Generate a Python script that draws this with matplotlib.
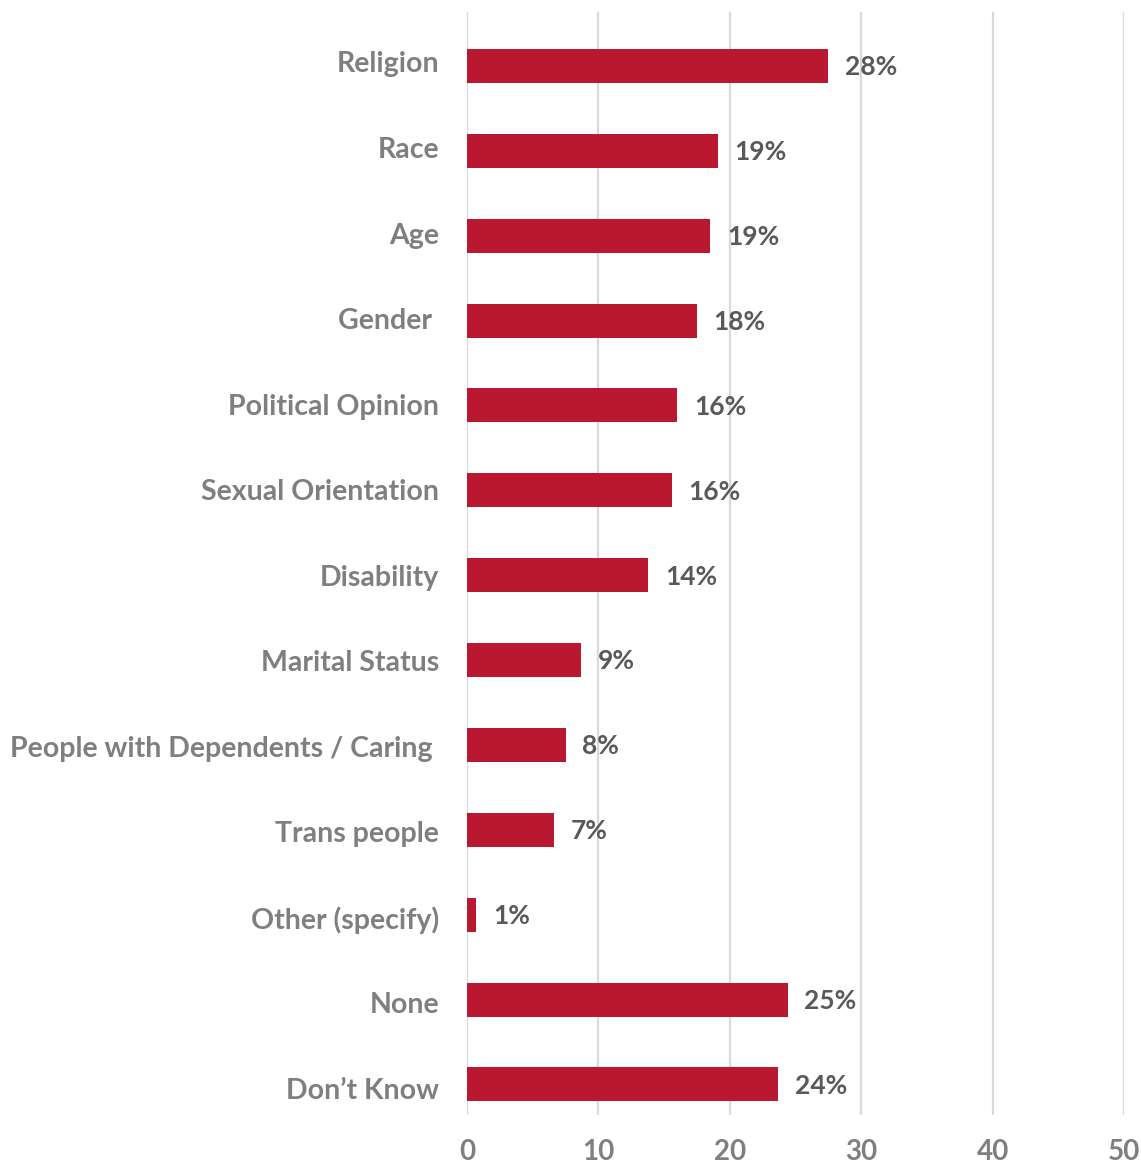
import matplotlib
matplotlib.use("Agg")
import matplotlib.pyplot as plt
import matplotlib.transforms as mtransforms

categories = ["Religion", "Race", "Age", "Gender ", "Political Opinion",
              "Sexual Orientation", "Disability", "Marital Status",
              "People with Dependents / Caring ", "Trans people",
              "Other (specify)", "None", "Don\u2019t Know"]
values = [27.5, 19.1, 18.5, 17.5, 16.0, 15.6, 13.8, 8.7, 7.5, 6.6, 0.7, 24.4, 23.7]
value_labels = ["28%", "19%", "19%", "18%", "16%", "16%", "14%", "9%", "8%",
                "7%", "1%", "25%", "24%"]
xticks = [0, 10, 20, 30, 40, 50]

plt.rcParams['font.family'] = ['Lato', 'DejaVu Sans']
fig = plt.figure(figsize=(11.41, 11.66), dpi=100)
ax = fig.add_axes([467/1141, 1 - 1115/1166, (1124 - 467)/1141, (1115 - 12)/1166])

pos = list(range(len(categories)))
ax.barh(pos, values, height=0.40, color="#BA1730", zorder=3)
ax.set_xlim(0, 50)
ax.set_ylim(12.36, -0.636)
ax.set_xticks(xticks)
ax.set_xticklabels([str(t) for t in xticks], fontsize=20, fontweight='bold', color="#7f7f7f")
ax.set_yticks(pos)
ax.set_yticklabels(categories, fontsize=20.5, fontweight='bold', color="#7f7f7f")
ax.tick_params(axis='both', length=0)
ax.tick_params(axis='y', pad=20)
ax.tick_params(axis='x', pad=17)
n = len(categories)
for i, lab in enumerate(ax.get_yticklabels()):
    dy = (4 - 8 * i / (n - 1)) / 100
    off = mtransforms.ScaledTranslation(0, dy, fig.dpi_scale_trans)
    lab.set_transform(lab.get_transform() + off)

ax.grid(axis='x', color="#d9d9d9", linewidth=1.6, zorder=0)
for s in ax.spines.values():
    s.set_visible(False)

for p, v, t in zip(pos, values, value_labels):
    ax.annotate(t, (v, p), xytext=(12, -1), textcoords='offset points',
                va='center', ha='left', fontsize=19, fontweight='bold', color="#595959")

fig.savefig("out.png", dpi=100)
